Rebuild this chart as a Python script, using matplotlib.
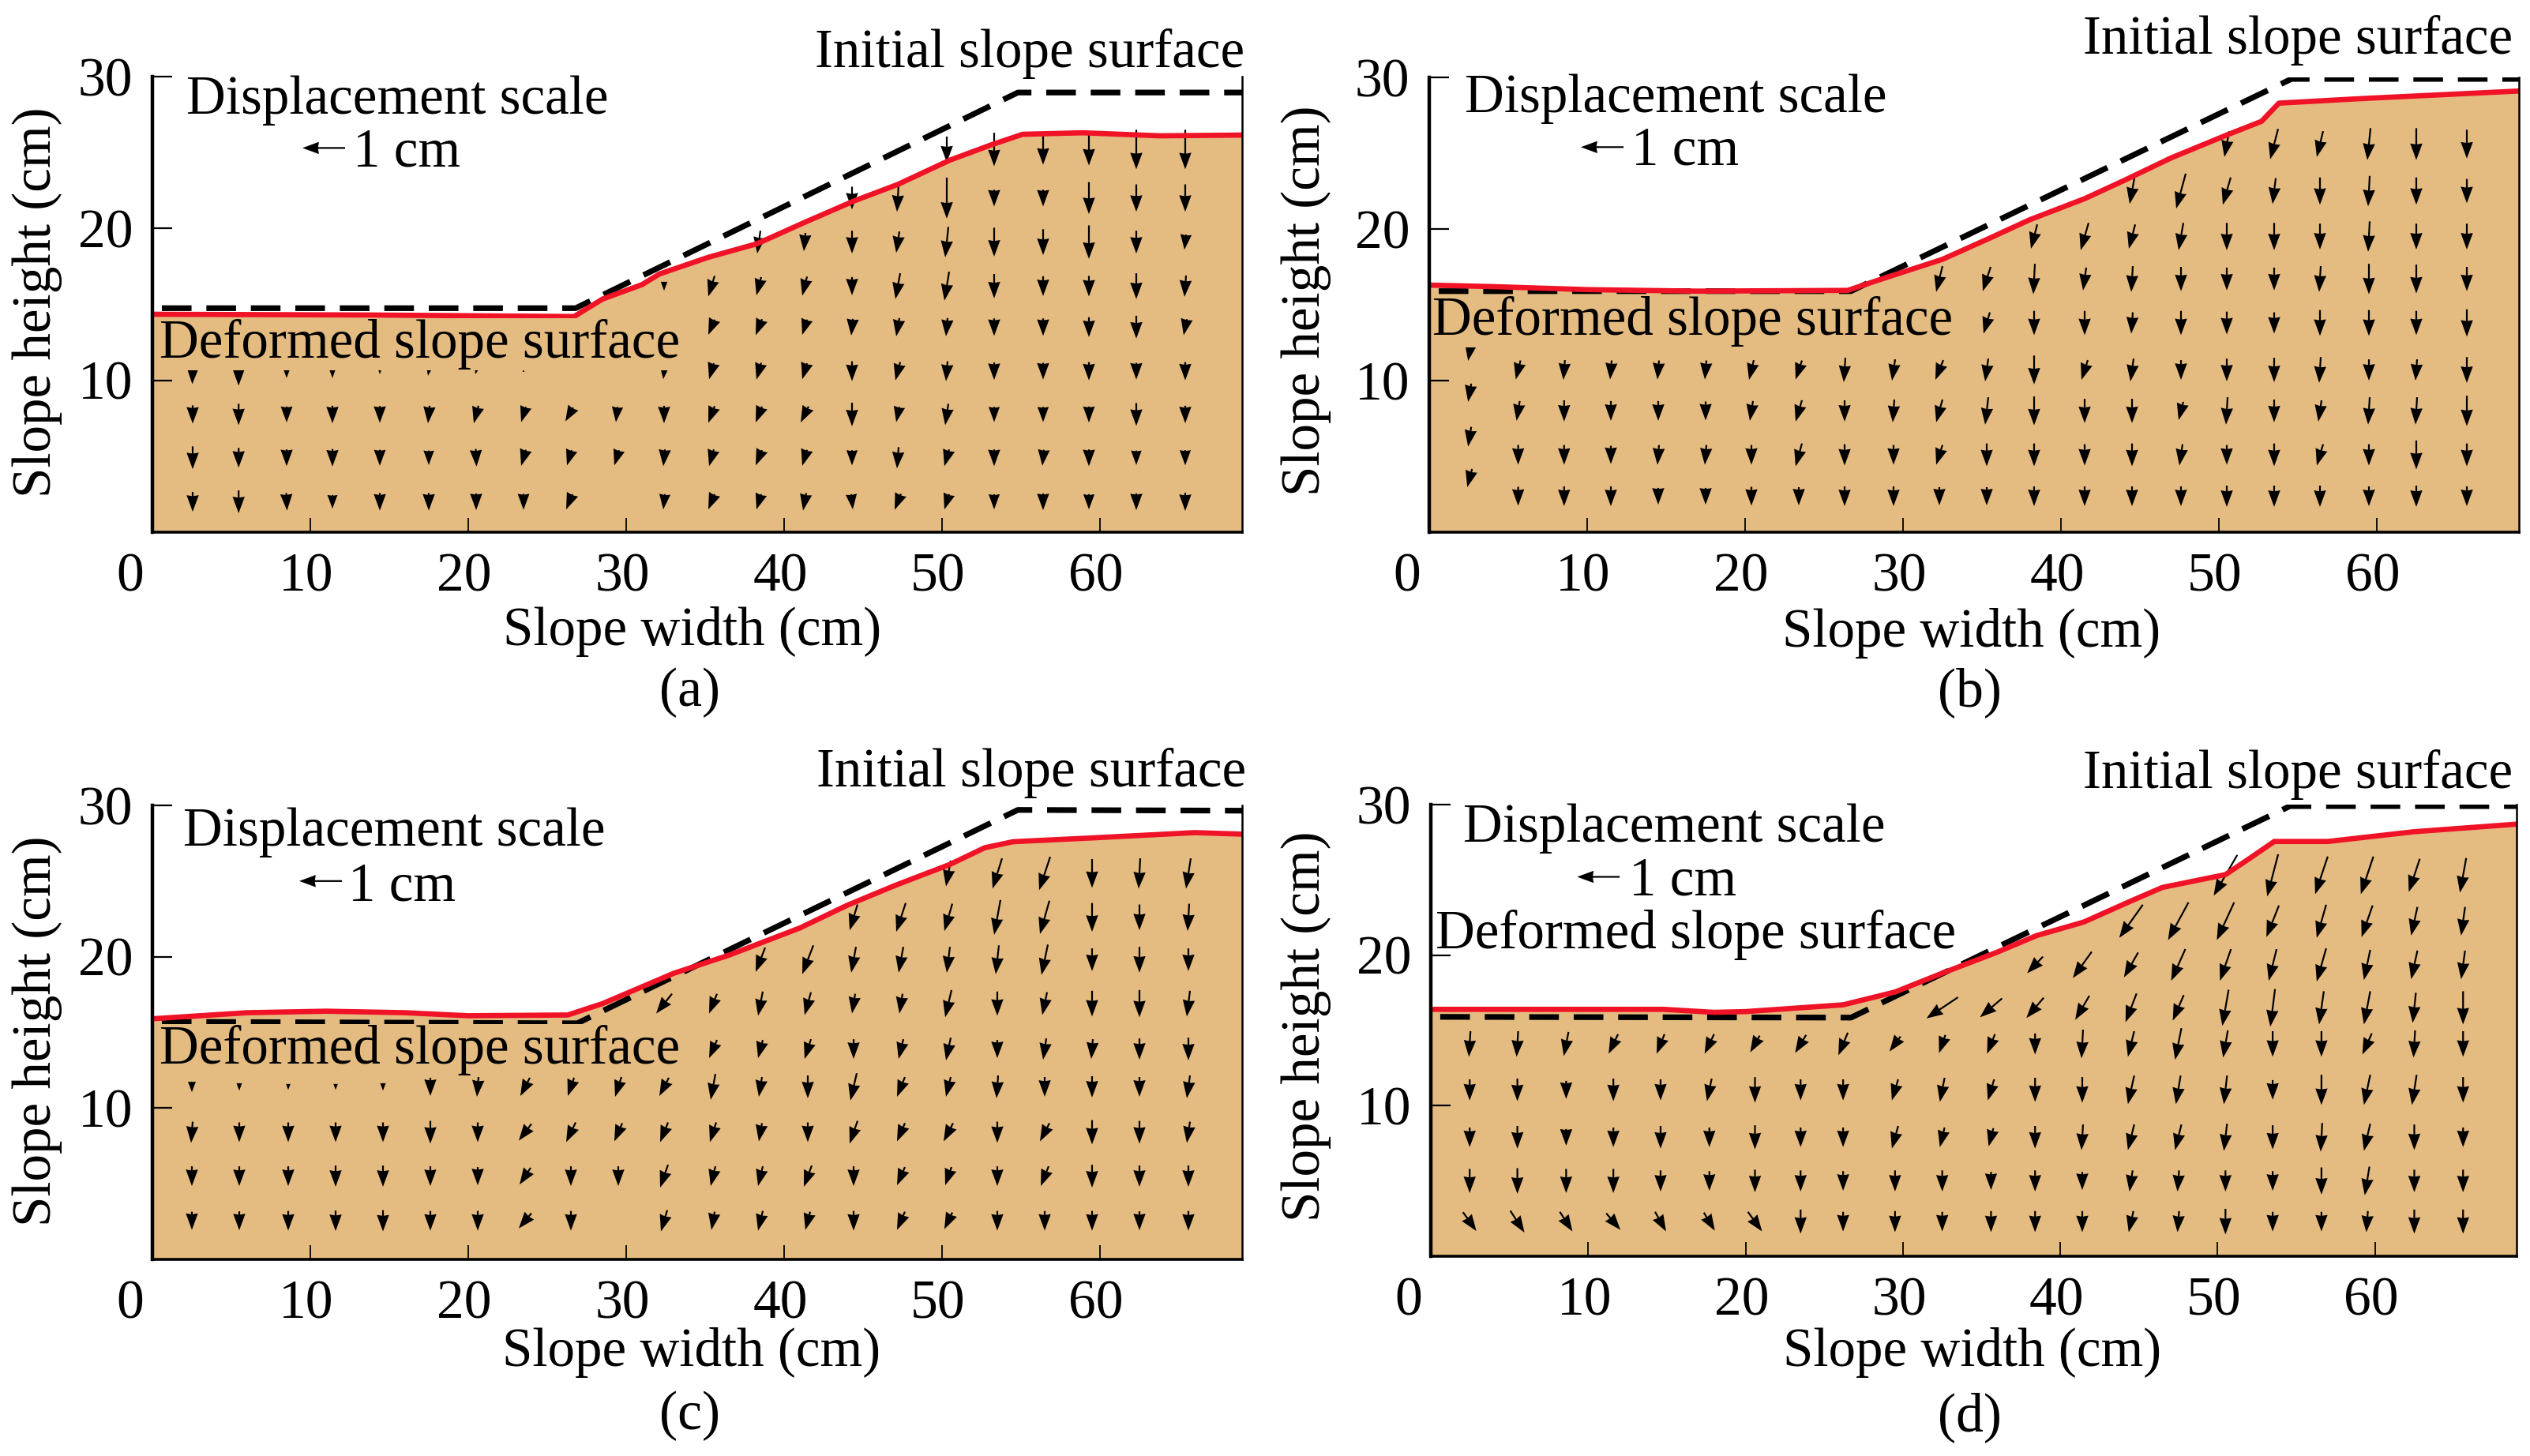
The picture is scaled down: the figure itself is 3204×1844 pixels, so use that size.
#!/usr/bin/env python3
"""Slope displacement fields for the four test stages, panels (a) to (d)."""

import matplotlib

matplotlib.use("Agg")
import matplotlib.pyplot as plt
from matplotlib.transforms import ScaledTranslation

plt.rcParams["font.family"] = ["Liberation Serif", "DejaVu Serif"]

W, H = 3204, 1844
N = None
SOIL = "#E4BB80"
RED = "#F01226"

# arrow grids, rows go from the bottom of the slope upwards
# *_LEN is the arrow length, *_TILT its sideways component, both in cm on the plot
A_COLS = [2.55, 5.46, 8.5, 11.4, 14.4, 17.5, 20.5, 23.5, 26.4, 29.4, 32.4, 35.4, 38.4, 41.3, 44.3, 47.2, 50.3, 53.3, 56.4, 59.3, 62.3, 65.4]
A_ROWS = [2.0, 4.9, 7.75, 10.6, 13.5, 16.2, 19.1, 22.0, 25.2]
A_LEN = [
    [1.3, 1.5, 1.15, 0.9, 1.15, 1.15, 1.1, 1.05, 1.0, N, 1.0, 1.0, 1.0, 1.15, 1.0, 1.05, 1.0, 1.0, 1.1, 1.0, 1.1, 1.2],
    [1.5, 1.3, 1.1, 1.15, 1.05, 0.95, 1.15, 1.05, 1.0, 1.0, 1.1, 1.1, 1.0, 1.05, 1.0, 1.4, 1.1, 1.1, 1.05, 1.1, 0.95, 1.0],
    [1.2, 1.4, 1.05, 1.15, 1.1, 1.15, 1.15, 1.0, 0.9, 1.0, 1.15, 1.1, 1.05, 1.05, 1.55, 1.0, 1.4, 1.0, 1.0, 1.05, 1.5, 1.15],
    [1.7, 1.9, 0.9, 0.9, 0.4, 0.6, 0.4, 0.1, N, N, 1.05, 1.05, 1.1, 1.05, 1.3, 1.2, 1.3, 1.15, 1.1, 1.2, 1.1, 1.2],
    [N, N, N, N, N, N, N, N, N, N, N, 1.0, 1.05, 1.0, 1.1, 1.2, 1.2, 1.15, 1.15, 1.3, 1.5, 1.05],
    [N, N, N, N, N, N, N, N, N, N, 0.6, 1.35, 1.2, 1.25, 1.2, 1.7, 1.9, 1.6, 1.3, 1.35, 1.7, 1.4],
    [N, N, N, N, N, N, N, N, N, N, N, N, 1.5, 1.2, 1.5, 1.4, 2.0, 1.9, 1.7, 2.2, 1.5, 1.0],
    [N, N, N, N, N, N, N, N, N, N, N, N, N, N, 1.5, 1.8, 2.7, 1.1, 1.1, 2.1, 1.8, 1.8],
    [N, N, N, N, N, N, N, N, N, N, N, N, N, N, N, N, 1.7, 2.2, 2.0, 2.1, 2.6, 2.6],
]
A_TILT = [
    [0, 0, 0.05, 0, 0, 0, 0, 0, -0.4, N, -0.1, -0.4, -0.3, -0.2, 0.1, -0.4, -0.3, 0, 0, 0, 0, 0],
    [0, 0, 0, 0, 0, 0, 0.05, -0.3, -0.3, -0.3, -0.1, -0.3, -0.4, -0.3, 0, -0.1, -0.3, 0, -0.1, 0, 0, 0],
    [0, 0, 0, 0, 0, -0.1, -0.3, -0.3, -0.5, -0.1, 0, -0.4, -0.4, -0.5, 0, -0.2, -0.2, 0, 0, 0, 0, 0],
    [-0.05, 0, 0, 0, 0, -0.1, -0.1, 0, N, N, -0.1, -0.3, -0.3, -0.3, 0, -0.3, -0.1, 0, 0, 0, 0, 0],
    [N, N, N, N, N, N, N, N, N, N, N, -0.4, -0.4, -0.3, -0.1, -0.2, -0.1, 0, 0, 0, 0, -0.2],
    [N, N, N, N, N, N, N, N, N, N, 0, -0.4, -0.3, -0.3, 0, -0.3, -0.3, 0, 0, 0, 0, -0.1],
    [N, N, N, N, N, N, N, N, N, N, N, N, -0.2, -0.1, 0, -0.2, -0.2, 0, 0, 0, 0, -0.1],
    [N, N, N, N, N, N, N, N, N, N, N, N, N, N, 0, -0.1, 0, 0, 0, 0, 0, 0],
    [N, N, N, N, N, N, N, N, N, N, N, N, N, N, N, N, 0, 0, 0, 0, 0, 0],
]

B_COLS = [2.56, 5.63, 8.54, 11.5, 14.5, 17.5, 20.4, 23.4, 26.3, 29.4, 32.3, 35.3, 38.3, 41.5, 44.5, 47.6, 50.5, 53.5, 56.4, 59.5, 62.5, 65.7]
B_ROWS = [2.37, 5.1, 8.0, 10.7, 13.8, 16.7, 19.5, 22.5, 25.6]
B_FIRST_COL_SHIFT = 1.2
B_LEN = [
    [1.2, 1.25, 1.3, 1.3, 1.1, 1.1, 1.25, 1.2, 1.3, 1.3, 1.2, 1.2, 1.3, 1.3, 1.3, 1.3, 1.4, 1.4, 1.4, 1.3, 1.4, 1.3],
    [1.3, 1.3, 1.3, 1.2, 1.3, 1.3, 1.3, 1.5, 1.4, 1.3, 1.3, 1.5, 1.5, 1.4, 1.5, 1.4, 1.3, 1.5, 1.4, 1.4, 1.9, 1.5],
    [1.2, 1.3, 1.4, 1.3, 1.3, 1.25, 1.3, 1.4, 1.4, 1.5, 1.5, 1.8, 1.9, 1.6, 1.6, 1.2, 1.8, 1.5, 1.4, 1.8, 1.8, 2.0],
    [1.2, 1.25, 1.3, 1.25, 1.25, 1.25, 1.3, 1.25, 1.6, 1.4, 1.3, 1.5, 1.9, 1.3, 1.5, 1.3, 1.5, 1.6, 1.7, 1.4, 1.4, 1.7],
    [N, N, N, N, N, N, N, N, N, N, N, 1.4, 1.6, 1.6, 1.4, 1.6, 1.5, 1.4, 1.7, 1.7, 1.6, 1.8],
    [N, N, N, N, N, N, N, N, N, N, 1.7, 1.6, 2.0, 1.5, 1.7, 1.6, 1.5, 1.5, 1.7, 2.0, 1.9, 1.6],
    [N, N, N, N, N, N, N, N, N, N, N, N, 1.6, 1.8, 1.6, 1.8, 1.8, 1.8, 1.7, 2.0, 1.7, 1.7],
    [N, N, N, N, N, N, N, N, N, N, N, N, N, N, 1.7, 2.3, 1.8, 1.7, 1.8, 2.0, 1.8, 1.6],
    [N, N, N, N, N, N, N, N, N, N, N, N, N, N, N, N, 1.7, 2.0, 1.7, 2.1, 2.1, 1.9],
]
B_TILT = [
    [-0.3, 0, 0, 0, 0, 0, 0, 0, 0, 0, 0, 0, 0, 0, 0, 0, 0, 0, 0, 0, 0, 0],
    [-0.2, 0, 0, 0, -0.1, -0.1, 0, -0.4, 0, 0, -0.4, 0, 0, 0, 0, -0.2, 0, 0, -0.4, 0, 0, 0],
    [-0.2, -0.2, 0, 0, 0, 0, -0.2, -0.4, 0, -0.1, -0.4, -0.2, 0, 0, 0, -0.3, -0.1, 0, -0.2, -0.1, -0.1, 0],
    [-0.2, -0.3, -0.1, -0.1, -0.1, -0.1, -0.3, -0.4, -0.1, -0.2, -0.5, -0.2, 0, -0.4, -0.2, 0, 0, 0, -0.1, 0, -0.1, 0],
    [N, N, N, N, N, N, N, N, N, N, N, -0.4, 0, 0, -0.1, 0, 0, 0, 0, 0, 0, 0],
    [N, N, N, N, N, N, N, N, N, N, -0.4, -0.5, -0.1, -0.2, -0.1, 0, 0, 0, -0.1, 0, 0, 0],
    [N, N, N, N, N, N, N, N, N, N, N, N, -0.4, -0.5, -0.4, -0.3, 0, 0, 0, -0.1, 0, 0],
    [N, N, N, N, N, N, N, N, N, N, N, N, N, N, -0.3, -0.6, -0.5, -0.2, 0, -0.1, 0, 0],
    [N, N, N, N, N, N, N, N, N, N, N, N, N, N, N, N, -0.3, -0.5, -0.4, -0.2, 0, 0],
]

C_COLS = [2.5, 5.5, 8.6, 11.6, 14.6, 17.6, 20.6, 23.6, 26.5, 29.5, 32.4, 35.5, 38.5, 41.5, 44.4, 47.4, 50.4, 53.5, 56.5, 59.5, 62.5, 65.6]
C_ROWS = [2.55, 5.5, 8.4, 11.4, 13.9, 16.9, 19.8, 22.6, 25.5]
C_LEN = [
    [1.2, 1.25, 1.3, 1.35, 1.4, 1.3, 1.3, 1.0, 1.3, N, 1.4, 1.2, 1.3, 1.2, 1.3, 1.2, 1.1, 1.3, 1.3, 1.3, 1.25, 1.3],
    [1.3, 1.3, 1.3, 1.4, 1.4, 1.3, 1.2, 1.1, 1.3, 1.3, 1.5, 1.3, 1.3, 1.4, 1.3, 1.2, 1.2, 1.3, 1.3, 1.5, 1.4, 1.4],
    [1.4, 1.3, 1.3, 1.3, 1.3, 1.5, 1.3, 1.1, 1.3, 1.2, 1.3, 1.3, 1.2, 1.3, 1.5, 1.2, 1.2, 1.4, 1.2, 1.6, 1.5, 1.4],
    [0.7, 0.5, 0.4, 0.4, 0.5, 1.2, 1.3, 1.2, 1.2, 1.3, 1.2, 1.7, 1.3, 1.5, 1.8, 1.3, 1.3, 1.5, 1.3, 1.4, 1.3, 1.5],
    [N, N, N, N, N, N, N, N, N, N, N, 1.2, 1.2, 1.3, 1.3, 1.3, 1.5, 1.2, 1.4, 1.3, 1.4, 1.5],
    [N, N, N, N, N, N, N, N, N, N, 1.3, 1.3, 1.6, 1.5, 1.3, 1.3, 1.8, 1.6, 1.5, 1.7, 1.8, 1.7],
    [N, N, N, N, N, N, N, N, N, N, N, N, 1.6, 1.9, 1.7, 1.7, 1.7, 1.9, 2.0, 1.5, 1.7, 1.5],
    [N, N, N, N, N, N, N, N, N, N, N, N, N, N, 1.7, 1.9, 1.8, 2.3, 2.2, 1.9, 1.7, 1.8],
    [N, N, N, N, N, N, N, N, N, N, N, N, N, N, N, N, 1.7, 2.0, 2.2, 1.9, 2.0, 2.0],
]
C_TILT = [
    [0, 0, 0, 0, 0, 0, 0, -0.8, 0, N, -0.4, -0.2, -0.3, -0.3, 0, -0.5, -0.5, 0, 0, 0, 0, 0],
    [0, 0, 0, 0, 0, 0, 0, -0.7, 0, 0, -0.5, -0.3, -0.3, -0.5, 0, -0.5, -0.4, 0, -0.5, 0, 0, 0],
    [-0.1, 0, 0, 0, 0, 0, 0, -0.8, -0.6, -0.5, -0.5, -0.4, -0.2, 0, -0.5, -0.5, -0.6, 0, -0.6, 0, 0, -0.2],
    [0, 0, 0, 0, 0, 0, -0.1, -0.6, -0.4, -0.4, -0.6, -0.3, -0.2, 0, -0.4, -0.5, -0.3, -0.1, 0, 0, 0, -0.2],
    [N, N, N, N, N, N, N, N, N, N, N, -0.5, -0.3, -0.4, 0, -0.3, -0.3, 0, -0.2, -0.1, 0, 0],
    [N, N, N, N, N, N, N, N, N, N, -1.0, -0.5, -0.3, -0.4, -0.2, -0.2, -0.4, 0, -0.3, 0, 0, -0.2],
    [N, N, N, N, N, N, N, N, N, N, N, N, -0.6, -0.7, -0.3, -0.3, -0.2, -0.2, -0.4, 0, 0, 0],
    [N, N, N, N, N, N, N, N, N, N, N, N, N, N, -0.5, -0.6, -0.5, -0.4, -0.6, 0, 0, -0.1],
    [N, N, N, N, N, N, N, N, N, N, N, N, N, N, N, N, -0.3, -0.6, -0.7, 0, -0.1, -0.3],
]

D_COLS = [2.47, 5.5, 8.6, 11.6, 14.6, 17.7, 20.6, 23.5, 26.2, 29.5, 32.5, 35.6, 38.4, 41.4, 44.5, 47.5, 50.5, 53.5, 56.6, 59.5, 62.5, 65.6]
D_ROWS = [2.3, 5.0, 7.9, 11.05, 14.1, 16.5, 19.35, 22.25, 25.3]
D_LEN = [
    [1.25, 1.45, 1.3, 1.1, 1.3, 1.2, 1.3, 1.6, 1.3, 1.4, 1.3, 1.4, 1.4, 1.4, 1.4, 1.4, 1.7, 1.3, 1.3, 1.4, 1.6, 1.6],
    [1.6, 1.7, 1.6, 1.6, 1.4, 1.3, 1.5, 1.4, 1.3, 1.4, 1.4, 1.2, 1.4, 1.2, 1.4, 1.4, 1.4, 1.3, 1.8, 1.9, 1.5, 1.5],
    [1.3, 1.5, 1.1, 1.3, 1.5, 1.3, 1.6, 1.3, 1.3, 1.5, 1.3, 1.2, 1.5, 1.7, 1.7, 1.7, 1.8, 1.6, 1.9, 1.8, 1.7, 1.3],
    [1.4, 1.5, 1.2, 1.5, 1.4, 1.5, 1.7, 1.4, 1.4, 1.4, 1.6, 1.4, 1.6, 1.7, 1.9, 1.9, 1.9, 1.3, 2.0, 2.0, 2.0, 1.7],
    [1.7, 1.7, 1.6, 1.3, 1.3, 1.3, 1.1, 1.2, 1.5, 1.0, 1.2, 1.3, 1.4, 1.9, 1.7, 2.1, 1.8, 1.7, 1.7, 1.4, 1.8, 1.7],
    [N, N, N, N, N, N, N, N, N, N, 1.4, 1.25, 1.35, 1.6, 1.9, 1.7, 2.4, 2.5, 2.2, 2.2, 2.0, 2.2],
    [N, N, N, N, N, N, N, N, N, N, N, N, 1.1, 1.75, 1.65, 2.1, 2.1, 2.1, 2.2, 2.0, 1.9, 1.9],
    [N, N, N, N, N, N, N, N, N, N, N, N, N, N, 2.2, 2.5, 2.5, 2.1, 2.2, 2.1, 1.9, 1.9],
    [N, N, N, N, N, N, N, N, N, N, N, N, N, N, N, N, 2.7, 2.8, 2.5, 2.5, 2.2, 2.3],
]
D_TILT = [
    [0.85, 0.9, 0.8, 0.9, 0.7, 0.7, 0.9, 0, 0, 0, 0, 0, 0, 0, -0.3, -0.1, 0, 0, 0, -0.1, 0, 0],
    [0, 0, 0, 0, 0, 0, 0, 0, 0, 0, 0, 0, 0, 0, -0.2, -0.1, 0, 0, 0, -0.3, 0, 0],
    [0, 0, 0, 0, 0, 0, 0, 0, 0, -0.4, -0.3, -0.3, 0, -0.1, -0.4, -0.4, -0.2, 0, -0.1, -0.4, 0, 0],
    [0, 0, 0, 0, 0, -0.3, 0, 0, 0, -0.4, -0.3, -0.4, 0, 0, -0.4, -0.3, -0.2, 0, 0, -0.4, -0.3, 0],
    [-0.1, -0.1, -0.3, -0.6, -0.5, -0.6, -0.6, -0.7, -0.6, -0.7, -0.4, -0.5, 0, -0.1, -0.4, -0.4, -0.3, 0, 0, -0.6, -0.1, 0],
    [N, N, N, N, N, N, N, N, N, N, -2.0, -1.4, -1.1, -0.9, -0.7, -0.7, -0.4, -0.3, -0.3, -0.4, -0.2, 0],
    [N, N, N, N, N, N, N, N, N, N, N, N, -1.0, -1.2, -0.9, -0.9, -0.7, -0.5, -0.6, -0.4, -0.4, -0.25],
    [N, N, N, N, N, N, N, N, N, N, N, N, N, N, -1.5, -1.3, -1.1, -0.8, -0.6, -0.7, -0.4, -0.25],
    [N, N, N, N, N, N, N, N, N, N, N, N, N, N, N, N, -1.5, -0.7, -0.8, -0.8, -0.7, -0.4],
]

# deformed surface (red line)
A_SURF_X = [0, 14, 26.7, 28.5, 31, 32.1, 35.2, 38.3, 41.3, 44.4, 47.2, 50.5, 53.1, 55.1, 58.9, 63.8, 69]
A_SURF_Y = [14.35, 14.3, 14.2, 15.35, 16.3, 17.0, 18.1, 19.0, 20.4, 21.8, 22.9, 24.5, 25.5, 26.2, 26.3, 26.1, 26.15]
B_SURF_X = [0, 4, 10, 17, 26.5, 28.5, 32.5, 35.5, 38, 41.5, 44, 47, 50.5, 52.7, 53.8, 59, 69]
B_SURF_Y = [16.3, 16.2, 16.0, 15.9, 15.95, 16.65, 18.0, 19.4, 20.6, 22.0, 23.2, 24.7, 26.2, 27.1, 28.3, 28.6, 29.1]
C_SURF_X = [0, 6, 11, 16, 20, 26.3, 28.5, 33, 36.5, 41, 44, 47, 50.5, 52.7, 54.5, 59.5, 66, 69]
C_SURF_Y = [15.9, 16.3, 16.4, 16.3, 16.1, 16.15, 16.9, 18.9, 20.1, 21.9, 23.4, 24.7, 26.1, 27.2, 27.6, 27.85, 28.2, 28.1]
D_SURF_X = [0, 14.8, 18, 20, 26.2, 29.5, 32.5, 36, 38.5, 41.5, 44.5, 46.5, 50.5, 52, 53.6, 57, 62.5, 69]
D_SURF_Y = [16.4, 16.4, 16.2, 16.25, 16.7, 17.55, 18.8, 20.2, 21.3, 22.2, 23.6, 24.5, 25.35, 26.4, 27.55, 27.55, 28.2, 28.7]

# initial surface (dashed line)
A_INIT_X = [0.6, 26.8, 54.8, 69]
A_INIT_Y = [14.75, 14.75, 28.95, 28.95]
B_INIT_X = [0.6, 26.7, 54.6, 69]
B_INIT_Y = [15.9, 15.9, 29.9, 29.9]
C_INIT_X = [0.6, 26.9, 54.8, 69]
C_INIT_Y = [15.7, 15.6, 29.7, 29.65]
D_INIT_X = [0.6, 26.7, 54.6, 69]
D_INIT_Y = [15.9, 15.85, 29.9, 29.9]

X_TICKS = [0, 10, 20, 30, 40, 50, 60]
Y_TICKS = [10, 20, 30]

PANELS = [
    dict(
        name="(a)", box=(193, 1573, 97, 674),
        cols=A_COLS, rows=A_ROWS, lens=A_LEN, tilts=A_TILT, first_shift=0,
        surf=(A_SURF_X, A_SURF_Y), init=(A_INIT_X, A_INIT_Y), scale=(12.2, 25.3),
        initial_at=(1576, 68), disp_at=(503, 127), cm_at=(515, 194),
        deformed_at=(532, 436), deformed_box=True,
        xlabel_at=(877, 800), ylabel_at=(47, 383), name_at=(873, 877),
    ),
    dict(
        name="(b)", box=(1810, 3190, 98, 674),
        cols=B_COLS, rows=B_ROWS, lens=B_LEN, tilts=B_TILT, first_shift=B_FIRST_COL_SHIFT,
        surf=(B_SURF_X, B_SURF_Y), init=(B_INIT_X, B_INIT_Y), scale=(12.3, 25.4),
        initial_at=(3182, 51), disp_at=(2122, 125), cm_at=(2134, 192),
        deformed_at=(2144, 407), deformed_box=True,
        xlabel_at=(2497, 802), ylabel_at=(1654, 381), name_at=(2494, 877),
    ),
    dict(
        name="(c)", box=(193, 1573, 1020, 1595),
        cols=C_COLS, rows=C_ROWS, lens=C_LEN, tilts=C_TILT, first_shift=0,
        surf=(C_SURF_X, C_SURF_Y), init=(C_INIT_X, C_INIT_Y), scale=(12.0, 25.0),
        initial_at=(1578, 979), disp_at=(499, 1054), cm_at=(509, 1124),
        deformed_at=(532, 1330), deformed_box=True,
        xlabel_at=(876, 1713), ylabel_at=(47, 1306), name_at=(874, 1793),
    ),
    dict(
        name="(d)", box=(1812, 3187, 1019, 1591),
        cols=D_COLS, rows=D_ROWS, lens=D_LEN, tilts=D_TILT, first_shift=0,
        surf=(D_SURF_X, D_SURF_Y), init=(D_INIT_X, D_INIT_Y), scale=(12.0, 25.2),
        initial_at=(3182, 981), disp_at=(2120, 1049), cm_at=(2131, 1117),
        deformed_at=(2148, 1184), deformed_box=False,
        xlabel_at=(2498, 1713), ylabel_at=(1654, 1300), name_at=(2494, 1795),
    ),
]


def label(fig, at, text, size=49.7, **kw):
    fig.text(at[0] / W, 1 - at[1] / H, text, fontsize=size, va="center", ha=kw.pop("ha", "center"), **kw)


def draw_panel(fig, p):
    left, right, top, bottom = p["box"]
    ax = fig.add_axes([left / W, 1 - bottom / H, (right - left) / W, (bottom - top) / H])
    ax.set_xlim(0, 69)
    ax.set_ylim(0, 30)

    sx, sy = p["surf"]
    ax.fill_between(sx, sy, 0, color=SOIL, linewidth=0, zorder=1)

    xs, ys, us, vs = [], [], [], []
    for y, lens, tilts in zip(p["rows"], p["lens"], p["tilts"]):
        for i, (x, length, tilt) in enumerate(zip(p["cols"], lens, tilts)):
            if length is None:
                continue
            xs.append(x)
            ys.append(y + (p["first_shift"] if i == 0 else 0))
            us.append(tilt)
            vs.append(-length)
    arrow = dict(units="dots", width=2.2, headwidth=7, headlength=9.5, headaxislength=9, color="black")
    ax.quiver(xs, ys, us, vs, angles="xy", scale_units="xy", scale=1, pivot="mid", zorder=2, **arrow)

    sc_x, sc_y = p["scale"]
    ax.quiver([sc_x], [sc_y], [-2.7], [0], angles="xy", scale_units="xy", scale=1, zorder=2, **arrow)

    ix, iy = p["init"]
    ax.plot(ix, iy, color="black", linewidth=5.2, dashes=(5.2, 2.6), zorder=3)
    ax.plot(sx, sy, color=RED, linewidth=4.8, zorder=4)

    ax.spines["top"].set_visible(False)
    ax.spines["left"].set_linewidth(3.2)
    ax.spines["bottom"].set_linewidth(2.6)
    ax.spines["right"].set_linewidth(1.8)
    for spine in ax.spines.values():
        spine.set_zorder(5)

    ax.set_xticks(X_TICKS)
    ax.set_yticks(Y_TICKS)
    ax.tick_params(axis="x", direction="in", length=13, width=1.3, pad=19, labelsize=50)
    ax.tick_params(axis="y", direction="in", length=18, width=1.6, pad=18, labelsize=50)
    ax.xaxis.get_major_ticks()[0].tick1line.set_visible(False)
    # the printed numbers sit a little left of their ticks, the 0 well left of the axis
    for value, tick_label in zip(X_TICKS, ax.get_xticklabels()):
        shift = -28 if value == 0 else -5
        tick_label.set_transform(tick_label.get_transform() + ScaledTranslation(shift / 100, 0, fig.dpi_scale_trans))

    label(fig, p["initial_at"], "Initial slope surface", ha="right")
    label(fig, p["disp_at"], "Displacement scale")
    label(fig, p["cm_at"], "1 cm")
    box = dict(facecolor=SOIL, edgecolor="none", pad=1) if p["deformed_box"] else None
    label(fig, p["deformed_at"], "Deformed slope surface", bbox=box, zorder=3)
    label(fig, p["xlabel_at"], "Slope width (cm)")
    label(fig, p["ylabel_at"], "Slope height (cm)", rotation=90)
    label(fig, p["name_at"], p["name"], size=50)


def main():
    fig = plt.figure(figsize=(W / 100, H / 100), dpi=100)
    for panel in PANELS:
        draw_panel(fig, panel)
    fig.savefig("out.png", dpi=100)


if __name__ == "__main__":
    main()
